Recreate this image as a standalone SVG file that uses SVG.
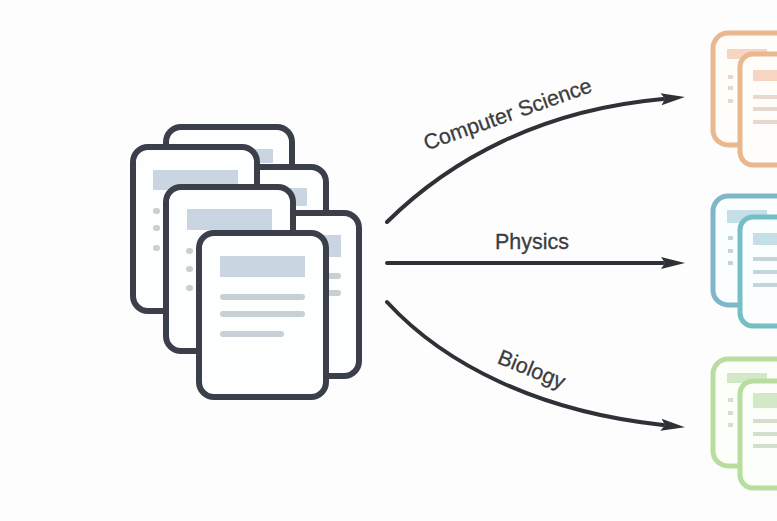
<svg xmlns="http://www.w3.org/2000/svg" width="777" height="521" viewBox="0 0 777 521">
<style>
.d{fill:#fdfefe;stroke:#3a3f49;stroke-width:6}
.b{fill:#c9d6e1}
.l{stroke:#c6d0d6;stroke-width:6;stroke-linecap:round}
.c{fill:none;stroke:#2e3136;stroke-width:4;stroke-linecap:round;marker-end:url(#arrow)}
.t{font-family:"Liberation Sans",Arial,sans-serif;font-size:21.5px;fill:#3a3c40;stroke:#3a3c40;stroke-width:.3;text-anchor:middle}
.o{fill:#fffdfa;stroke:#eab88f;stroke-width:5}
.ob{fill:#f8d5c0}.ol{stroke:#e6d8cc;stroke-width:4}
.p{fill:#fbfefe;stroke:#7fb6c8;stroke-width:5}
.q{fill:#fbfefe;stroke:#74bfc5;stroke-width:5}
.pb{fill:#c5dfe6}.pl{stroke:#c4d5d9;stroke-width:4}
.g{fill:#fcfefa;stroke:#b7dd9f;stroke-width:5}
.gb{fill:#d3e8c6}.gl{stroke:#d2dfcb;stroke-width:4}
</style>
<defs>
<marker id="arrow" viewBox="0 0 24 14" refX="2" refY="7" markerWidth="24" markerHeight="14" markerUnits="userSpaceOnUse" orient="auto">
<path d="M0,1 L24,7 L0,13 L4,7 Z" fill="#2e3136"/>
</marker>
</defs>
<rect width="777" height="521" fill="#fdfdfd"/>
<g id="doc-back-1">
<rect class="d" x="166" y="127" width="126" height="170" rx="15"/>
<rect class="b" x="186" y="149" width="87" height="14"/>
</g>
<g id="doc-back-2">
<rect class="d" x="200" y="167" width="126" height="170" rx="15"/>
<rect class="b" x="222" y="188" width="85" height="18"/>
</g>
<g id="doc-back-3">
<rect class="d" x="236" y="213" width="123" height="163" rx="15"/>
<rect class="b" x="256" y="235" width="85" height="22"/>
<line class="l" x1="259" y1="276" x2="338" y2="276"/>
<line class="l" x1="259" y1="293" x2="338" y2="293"/>
</g>
<g id="doc-left">
<rect class="d" x="133" y="147" width="124" height="164" rx="15"/>
<rect class="b" x="153" y="170" width="85" height="20"/>
<line class="l" x1="156" y1="211" x2="157" y2="211"/>
<line class="l" x1="156" y1="228" x2="157" y2="228"/>
<line class="l" x1="156" y1="248" x2="157" y2="248"/>
</g>
<g id="doc-middle">
<rect class="d" x="166" y="187" width="127" height="164" rx="15"/>
<rect class="b" x="187" y="209" width="85" height="21"/>
<line class="l" x1="189" y1="251" x2="190" y2="251"/>
<line class="l" x1="189" y1="269" x2="190" y2="269"/>
<line class="l" x1="189" y1="288" x2="190" y2="288"/>
</g>
<g id="doc-front">
<rect class="d" x="199" y="233" width="127" height="164" rx="15"/>
<rect class="b" x="220" y="256" width="85" height="21"/>
<line class="l" x1="223" y1="297" x2="302" y2="297"/>
<line class="l" x1="223" y1="314" x2="302" y2="314"/>
<line class="l" x1="223" y1="334" x2="281" y2="334"/>
</g>
<g id="connectors">
<path class="c" d="M387,222 C450,160 540,110 663,99"/>
<path class="c" d="M387,263 L663,263"/>
<path class="c" d="M387,302 C445,365 540,412 663,425"/>
</g>
<text class="t" transform="translate(510,121) rotate(-19.5)">Computer Science</text>
<text class="t" x="532" y="249">Physics</text>
<text class="t" transform="translate(529,376) rotate(22)">Biology</text>
<g id="orange-docs">
<rect class="o" x="713" y="33" width="90" height="112" rx="15"/>
<rect class="ob" x="727" y="49" width="40" height="10"/>
<line class="ol" x1="728" y1="77" x2="733" y2="77"/>
<line class="ol" x1="728" y1="88" x2="733" y2="88"/>
<line class="ol" x1="728" y1="101" x2="733" y2="101"/>
<rect class="o" x="740" y="54" width="90" height="111" rx="13"/>
<rect class="ob" x="753" y="70" width="40" height="11"/>
<line class="ol" x1="753" y1="97" x2="790" y2="97"/>
<line class="ol" x1="753" y1="109" x2="790" y2="109"/>
<line class="ol" x1="753" y1="122" x2="790" y2="122"/>
</g>
<g id="teal-docs">
<rect class="p" x="713" y="196" width="90" height="109" rx="15"/>
<rect class="pb" x="727" y="210" width="40" height="13"/>
<line class="pl" x1="728" y1="238" x2="733" y2="238"/>
<line class="pl" x1="728" y1="251" x2="733" y2="251"/>
<line class="pl" x1="728" y1="263" x2="733" y2="263"/>
<rect class="q" x="740" y="217" width="90" height="109" rx="13"/>
<rect class="pb" x="753" y="233" width="40" height="12"/>
<line class="pl" x1="753" y1="259" x2="790" y2="259"/>
<line class="pl" x1="753" y1="272" x2="790" y2="272"/>
<line class="pl" x1="753" y1="285" x2="790" y2="285"/>
</g>
<g id="green-docs">
<rect class="g" x="713" y="359" width="90" height="107" rx="15"/>
<rect class="gb" x="727" y="373" width="40" height="10"/>
<line class="gl" x1="728" y1="400" x2="733" y2="400"/>
<line class="gl" x1="728" y1="413" x2="733" y2="413"/>
<line class="gl" x1="728" y1="425" x2="733" y2="425"/>
<rect class="g" x="740" y="381" width="90" height="107" rx="13"/>
<rect class="gb" x="753" y="393" width="40" height="15"/>
<line class="gl" x1="753" y1="421" x2="790" y2="421"/>
<line class="gl" x1="753" y1="434" x2="790" y2="434"/>
<line class="gl" x1="753" y1="446" x2="790" y2="446"/>
</g>
</svg>
